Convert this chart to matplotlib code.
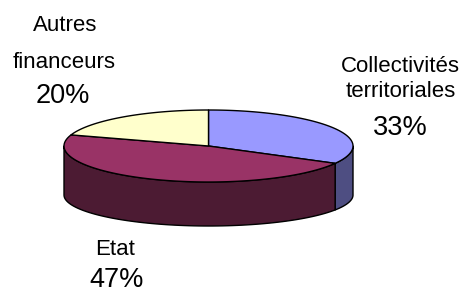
import numpy as np
import matplotlib
matplotlib.use("Agg")
import matplotlib.pyplot as plt
from matplotlib.patches import Polygon

# ---- data ----
categories = ["Collectivités territoriales", "Etat", "Autres financeurs"]
label_lines = [["Collectivités", "territoriales"], ["Etat"], ["Autres", "financeurs"]]
values = [33, 47, 20]
pct_labels = ["33%", "47%", "20%"]
top_colors = ["#9999FF", "#993366", "#FFFFCC"]
side_colors = ["#4E4E82", "#4C1B33", "#80805F"]

plt.rcParams['font.family'] = ['Liberation Sans', 'DejaVu Sans']

fig = plt.figure(figsize=(4.64, 2.92), dpi=100)
ax = fig.add_axes([0, 0, 1, 1])
ax.set_xlim(0, 464)
ax.set_ylim(292, 0)
ax.axis('off')

# geometry of the tilted pie (pixel space)
cx, cy = 208.5, 146.0
a, b = 144.5, 36.0
depth = 49.0
b_bot = 31.0
lw = 1.0

def top_pt(t):
    return cx + a * np.cos(t), cy - b * np.sin(t)

def bot_pt(t):
    return cx + a * np.cos(t), cy + depth - b_bot * np.sin(t)

# slice angles (clockwise from 90 deg)
total = float(sum(values))
starts, ends = [], []
ang = 90.0
for v in values:
    sweep = 360.0 * v / total
    starts.append(ang)
    ends.append(ang - sweep)
    ang -= sweep

# side walls: visible front half (180..360 deg)
for i in range(len(values)):
    lo, hi = ends[i], starts[i]
    for shift in (0, 360, -360, 720):
        l, h = lo + shift, hi + shift
        l2, h2 = max(l, 180.0), min(h, 360.0)
        if h2 > l2:
            ts = np.radians(np.linspace(l2, h2, 80))
            tx, ty = top_pt(ts)
            bx, by = bot_pt(ts[::-1])
            pts = np.column_stack([np.concatenate([tx, bx]), np.concatenate([ty, by])])
            ax.add_patch(Polygon(pts, closed=True, facecolor=side_colors[i],
                                 edgecolor='black', linewidth=lw, joinstyle='round'))

# top faces
for i in range(len(values)):
    ts = np.radians(np.linspace(ends[i], starts[i], 120))
    tx, ty = top_pt(ts)
    pts = np.column_stack([np.concatenate([[cx], tx]), np.concatenate([[cy], ty])])
    ax.add_patch(Polygon(pts, closed=True, facecolor=top_colors[i],
                         edgecolor='black', linewidth=lw, joinstyle='round'))

# labels (baseline positions in pixels)
name_pos = {
    0: [(400, 72), (401, 97)],
    1: [(115, 255)],
    2: [(65, 31), (64, 68)],
}
pct_pos = {0: (400, 135), 1: (116.5, 287), 2: (63, 103)}
for i in range(len(values)):
    for line, (x, y) in zip(label_lines[i], name_pos[i]):
        ax.text(x, y, line, ha='center', va='baseline', fontsize=16, color='black')
    x, y = pct_pos[i]
    ax.text(x, y, pct_labels[i], ha='center', va='baseline', fontsize=19.5, color='black')

fig.savefig("out.png", dpi=100)
